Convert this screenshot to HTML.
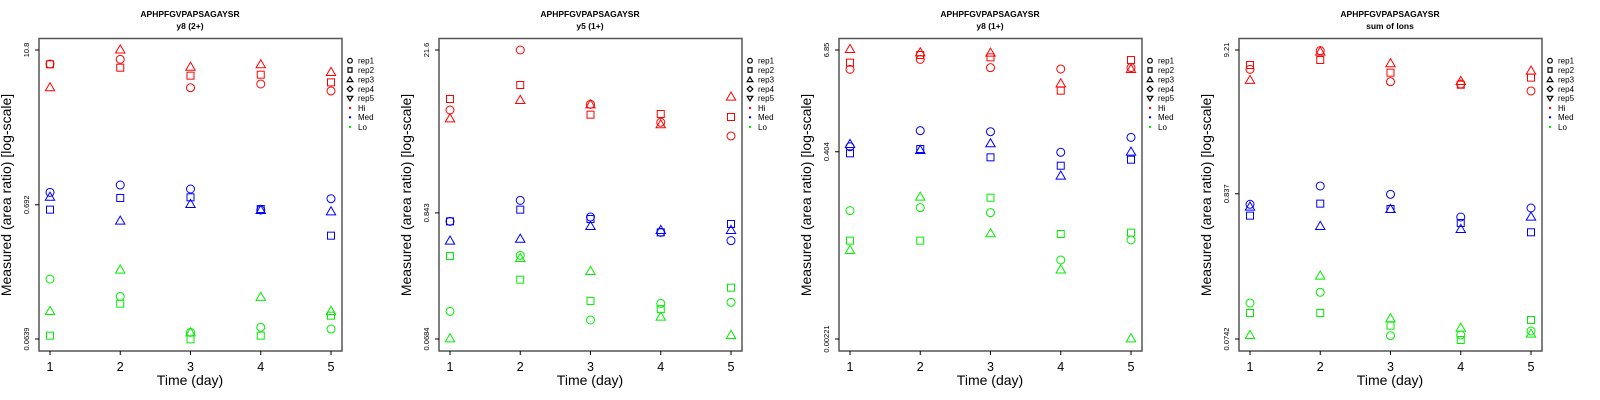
<!DOCTYPE html>
<html><head><meta charset="utf-8"><style>
html,body{margin:0;padding:0;background:#fff;}
svg{display:block;font-family:"Liberation Sans",sans-serif;}
</style></head><body>
<svg id="chart" width="1600" height="400" xmlns="http://www.w3.org/2000/svg"></svg>
<script>
const days = [1,2,3,4,5];
const panelTitles = ["y8 (2+)","y5 (1+)","y8 (1+)","sum of Ions"];
const peptide = "APHPFGVPAPSAGAYSR";
const yTopTicks = [10.8, 21.6, 6.85, 9.21];
const yBotTicks = [0.0639, 0.0684, 0.00221, 0.0742];
const yTickMid = ["0.692","0.843","0.404","0.837"];
const yTickTop = ["10.8","21.6","6.85","9.21"];
const yTickBot = ["0.0639","0.0684","0.00221","0.0742"];
// [panel][group Hi/Med/Lo][rep1/rep2/rep3][day]
const p1Hi = [[8.42,9.15,5.53,5.91,5.22],[8.38,7.89,6.85,6.97,6.08],[5.57,10.9,8.03,8.38,7.31]];
const p1Med = [[0.863,0.983,0.916,0.631,0.771],[0.635,0.781,0.790,0.642,0.400],[0.799,0.522,0.702,0.631,0.616]];
const p1Lo = [[0.185,0.136,0.0719,0.0786,0.0763],[0.0678,0.1196,0.0635,0.0678,0.0967],[0.105,0.219,0.0719,0.135,0.105]];
const p2Hi = [[6.54,21.6,7.32,5.12,3.90],[8.14,10.76,5.96,6.04,5.69],[5.54,7.98,7.32,4.92,8.53]];
const p2Med = [[0.712,1.082,0.777,0.572,0.485],[0.712,0.899,0.746,0.572,0.676],[0.485,0.504,0.649,0.600,0.600]];
const p2Lo = [[0.1187,0.362,0.0999,0.139,0.142],[0.357,0.223,0.146,0.124,0.190],[0.0693,0.343,0.265,0.1067,0.0741]];
const p3Hi = [[4.00,5.28,4.19,4.04,4.19],[4.82,5.96,5.58,2.21,5.18],[7.05,6.42,6.36,2.71,4.04]];
const p3Med = [[0.465,0.726,0.706,0.398,0.603],[0.387,0.436,0.346,0.274,0.324],[0.501,0.424,0.511,0.208,0.405]];
const p3Lo = [[0.0785,0.0853,0.0742,0.0199,0.0347],[0.0341,0.0341,0.1126,0.0410,0.0426],[0.0263,0.1158,0.0418,0.0153,0.00225]];
const p4Hi = [[6.67,9.11,5.43,5.22,4.65],[7.17,7.80,6.31,5.16,5.81],[5.59,8.96,7.38,5.49,6.53]];
const p4Med = [[0.702,0.953,0.829,0.568,0.660],[0.581,0.710,0.649,0.514,0.440],[0.675,0.489,0.649,0.465,0.571]];
const p4Lo = [[0.1353,0.1617,0.0784,0.0793,0.0848],[0.1145,0.1145,0.0927,0.0730,0.1019],[0.0793,0.2135,0.1048,0.0896,0.0811]];
const panelData = [[p1Hi,p1Med,p1Lo],[p2Hi,p2Med,p2Lo],[p3Hi,p3Med,p3Lo],[p4Hi,p4Med,p4Lo]];
const groupColors = ["#ff0000","#0000ff","#00ee00"];
const groupNames = ["hi","med","lo"];
const legendLabels = ["rep1","rep2","rep3","rep4","rep5","Hi","Med","Lo"];

const NS="http://www.w3.org/2000/svg";
const svg=document.getElementById('chart');
function mk(tag,attrs,parent){const e=document.createElementNS(NS,tag);for(const k in attrs)e.setAttribute(k,attrs[k]);(parent||svg).appendChild(e);return e;}

function marker(g,shape,cx,cy,color){
  let e;
  if(shape===0){e=mk('circle',{cx:cx,cy:cy,r:4,fill:'none',stroke:color,'stroke-width':1},g);}
  else if(shape===1){e=mk('rect',{x:cx-3.5,y:cy-3.5,width:7,height:7,fill:'none',stroke:color,'stroke-width':1},g);}
  else {e=mk('polygon',{points:`${cx-4.7},${cy+3.5} ${cx+4.7},${cy+3.5} ${cx},${cy-4.6}`,fill:'none',stroke:color,'stroke-width':1},g);}
  return e;
}

for(let p=0;p<4;p++){
  const ox=p*400;
  const g=mk('g',{});
  
  
  const xS=d=>ox+50+(d-1)*(281/4);
  const lt=Math.log(yTopTicks[p]), lb=Math.log(yBotTicks[p]);
  const yS=v=>339-(Math.log(v)-lb)/(lt-lb)*289;
  let t=mk('text',{x:ox+190,y:17,'font-size':8.5,'font-weight':'bold','text-anchor':'middle',fill:'#000'},g);
  t.textContent=peptide;
  
  
  t=mk('text',{x:ox+190,y:29,'font-size':8.5,'font-weight':'bold','text-anchor':'middle',fill:'#000'},g);
  t.textContent=panelTitles[p];
  
  
  const box=mk('rect',{x:ox+39,y:38.5,width:303,height:312.5,fill:'none',stroke:'#555','stroke-width':1.5},g);
  
  
  // x ticks
  days.forEach(d=>{
    const x=xS(d);
    mk('line',{x1:x,y1:351,x2:x,y2:355,stroke:'#000','stroke-width':1},g);
    const tx=mk('text',{x:x,y:371,'font-size':12.5,'text-anchor':'middle',fill:'#000'},g);
    tx.textContent=d;
    
    
  });
  // y ticks
  const midV=parseFloat(yTickMid[p]);
  [[yTopTicks[p],yTickTop[p]],[midV,yTickMid[p]],[yBotTicks[p],yTickBot[p]]].forEach(([v,lab])=>{
    const y=yS(v);
    mk('line',{x1:35,x2:39,y1:y,y2:y,stroke:'#000','stroke-width':1,transform:`translate(${ox},0)`},g);
    const ty=mk('text',{x:0,y:0,'font-size':7.5,'text-anchor':'middle',fill:'#000',transform:`translate(${ox+29},${y}) rotate(-90)`},g);
    ty.textContent=lab;
    
    
  });
  t=mk('text',{x:ox+190,y:385,'font-size':14,'text-anchor':'middle',fill:'#000'},g);
  t.textContent="Time (day)";
  
  
  t=mk('text',{x:0,y:0,'font-size':14,'text-anchor':'middle',fill:'#000',transform:`translate(${ox+11},195) rotate(-90)`},g);
  t.textContent="Measured (area ratio) [log-scale]";
  
  
  // points
  panelData[p].forEach((grp,gi)=>{
    grp.forEach((rep,ri)=>{
      rep.forEach((v,di)=>{
        const m=marker(g,ri,xS(days[di]),yS(v),groupColors[gi]);
        
        
      });
    });
  });
  // legend
  const lg=mk('g',{},g);
  
  
  const rows=[60.7,70,79.6,89,98.3,108,117.3,127];
  legendLabels.forEach((lab,i)=>{
    const cx=ox+350, cy=rows[i];
    if(i===0)mk('circle',{cx:cx,cy:cy,r:2.3,fill:'none',stroke:'#000','stroke-width':1.2},lg);
    else if(i===1)mk('rect',{x:cx-2,y:cy-2.2,width:4,height:4.4,fill:'none',stroke:'#000','stroke-width':1.2},lg);
    else if(i===2)mk('polygon',{points:`${cx-2.8},${cy+2} ${cx+2.8},${cy+2} ${cx},${cy-2.6}`,fill:'none',stroke:'#000','stroke-width':1.2},lg);
    else if(i===3)mk('polygon',{points:`${cx},${cy-2.8} ${cx+2.8},${cy} ${cx},${cy+2.8} ${cx-2.8},${cy}`,fill:'none',stroke:'#000','stroke-width':1.2},lg);
    else if(i===4)mk('polygon',{points:`${cx-2.8},${cy-2} ${cx+2.8},${cy-2} ${cx},${cy+2.6}`,fill:'none',stroke:'#000','stroke-width':1.2},lg);
    else mk('circle',{cx:cx,cy:cy,r:1.2,fill:groupColors[i-5]},lg);
    const lt2=mk('text',{x:ox+358,y:cy+2.8,'font-size':8,fill:'#000'},lg);
    lt2.textContent=lab;
    
    
  });
}
</script>
</body></html>
